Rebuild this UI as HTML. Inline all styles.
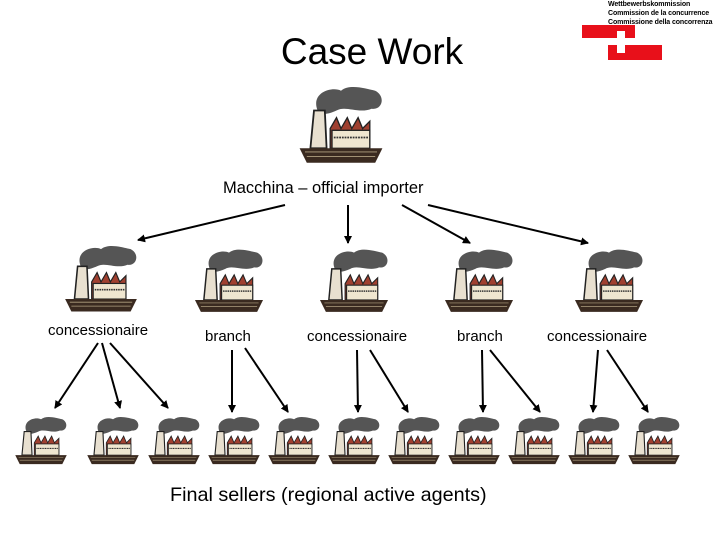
<!DOCTYPE html>
<html><head><style>
body{margin:0;width:720px;height:540px;background:#fff;position:relative;overflow:hidden;font-family:"Liberation Sans",sans-serif}
.t{position:absolute;white-space:nowrap;color:#000}
</style></head><body>
<svg width="720" height="540" style="position:absolute;left:0;top:0">
<defs>
<marker id="a" markerWidth="8" markerHeight="8" refX="7" refY="4" orient="auto" markerUnits="userSpaceOnUse"><path d="M0,0L8,4L0,8z" fill="#000"/></marker>
<symbol id="f" viewBox="0 0 100 90">
<path d="M24,30 C16,10 40,3 50,8 C60,0 78,6 88,8 C100,14 96,30 84,28 C70,34 55,24 45,30 C36,34 28,36 24,30z" fill="#555"/>
<path d="M20,30 L32,30 L34,72 L16,72z" fill="#e8e0d0" stroke="#222" stroke-width="2"/>
<path d="M38,50 L45,38 L50,50 L57,38 L62,50 L69,38 L74,50 L82,42 L82,72 L38,72z" fill="#a04030" stroke="#222" stroke-width="1.5"/>
<rect x="40" y="52" width="42" height="20" fill="#efe6d0" stroke="#222" stroke-width="1.5"/>
<path d="M42,60 H80" stroke="#333" stroke-width="2" stroke-dasharray="2 1"/>
<path d="M4,72 H96 L88,88 H12z" fill="#3a2a20"/>
<path d="M10,76 H90 M12,81 H88" stroke="#b0a080" stroke-width="1"/>
</symbol>
</defs>
<use href="#f" x="296" y="80" width="90" height="88"/>
<use href="#f" x="62" y="240" width="78" height="76"/>
<use href="#f" x="192" y="244" width="74" height="72"/>
<use href="#f" x="317" y="244" width="74" height="72"/>
<use href="#f" x="442" y="244" width="74" height="72"/>
<use href="#f" x="572" y="244" width="74" height="72"/>
<g>
<use href="#f" x="13" y="408" width="56" height="64"/>
<use href="#f" x="85" y="408" width="56" height="64"/>
<use href="#f" x="146" y="408" width="56" height="64"/>
<use href="#f" x="206" y="408" width="56" height="64"/>
<use href="#f" x="266" y="408" width="56" height="64"/>
<use href="#f" x="326" y="408" width="56" height="64"/>
<use href="#f" x="386" y="408" width="56" height="64"/>
<use href="#f" x="446" y="408" width="56" height="64"/>
<use href="#f" x="506" y="408" width="56" height="64"/>
<use href="#f" x="566" y="408" width="56" height="64"/>
<use href="#f" x="626" y="408" width="56" height="64"/>
</g>
<g stroke="#000" stroke-width="2" marker-end="url(#a)" fill="none">
<path d="M285,205L138,240"/><path d="M348,205L348,243"/><path d="M402,205L470,243"/><path d="M428,205L588,243"/>
<path d="M98,343L55,408"/><path d="M102,343L120,408"/><path d="M110,343L168,408"/>
<path d="M232,350L232,412"/><path d="M245,348L288,412"/>
<path d="M357,350L358,412"/><path d="M370,350L408,412"/>
<path d="M482,350L483,412"/><path d="M490,350L540,412"/>
<path d="M598,350L593,412"/><path d="M607,350L648,412"/>
</g>
<rect x="582" y="25" width="53" height="13" fill="#e8101a"/>
<rect x="608" y="45" width="54" height="15" fill="#e8101a"/>
<rect x="617" y="31" width="8" height="22" fill="#fff"/>
<rect x="610" y="38" width="22" height="7" fill="#fff"/>
</svg>
<div class="t" style="left:608px;top:0;font-size:7px;font-weight:bold;line-height:9px;letter-spacing:-0.1px">Wettbewerbskommission<br>Commission de la concurrence<br>Commissione della concorrenza</div>
<div class="t" style="left:0;width:744px;text-align:center;top:31px;font-size:37px">Case Work</div>
<div class="t" style="left:223px;top:179px;font-size:16.5px">Macchina – official importer</div>
<div class="t" style="left:48px;top:322px;font-size:15px">concessionaire</div>
<div class="t" style="left:205px;top:328px;font-size:15px">branch</div>
<div class="t" style="left:307px;top:328px;font-size:15px">concessionaire</div>
<div class="t" style="left:457px;top:328px;font-size:15px">branch</div>
<div class="t" style="left:547px;top:328px;font-size:15px">concessionaire</div>
<div class="t" style="left:170px;top:484px;font-size:19.8px">Final sellers (regional active agents)</div>
</body></html>
